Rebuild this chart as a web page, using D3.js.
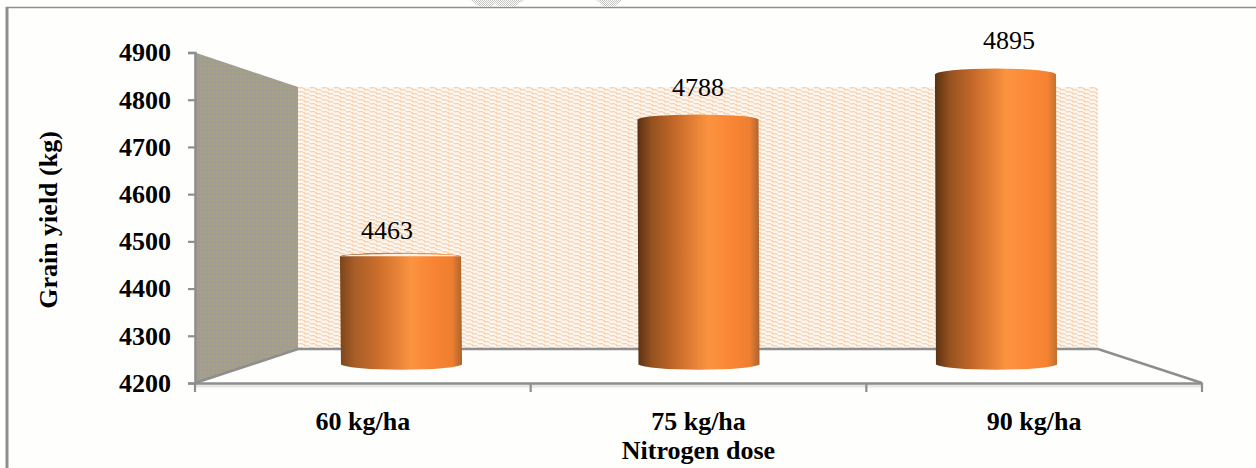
<!DOCTYPE html>
<html>
<head>
<meta charset="utf-8">
<script src="https://cdn.jsdelivr.net/npm/d3@7"></script>
<style>
  html, body { margin: 0; padding: 0; background: #fefefd; }
  svg { display: block; }
  text { font-family: "Liberation Serif", serif; fill: #000; }
</style>
</head>
<body>
<svg id="chart" width="1256" height="468"></svg>
<script>
// Grain yield under three nitrogen doses
const doses = ["60 kg/ha", "75 kg/ha", "90 kg/ha"];
const grainYield = [4463, 4788, 4895];
const yTicks = [4200, 4300, 4400, 4500, 4600, 4700, 4800, 4900];
const yTitle = "Grain yield (kg)";
const xTitle = "Nitrogen dose";

const svg = d3.select("#chart");
const W = 1256, H = 468;
const grey = "#8e8e8e";
const domain = [4200, 4900];

// The 3D box: front plane carries the axes, back plane carries the wall,
// the cylinders stand halfway between them.
const front = { x0: 195, x1: 1202, y: d3.scaleLinear().domain(domain).range([383, 52.5]) };
const back  = { x0: 298, x1: 1098, y: d3.scaleLinear().domain(domain).range([349, 87]) };
const midY  = d3.scaleLinear().domain(domain).range([365.5, 71]);
const labelY = d3.scaleLinear().domain(domain).range([355, 47]);

const xFront = d3.scaleBand().domain(doses).range([front.x0, front.x1]);
const xMid   = d3.scaleBand().domain(doses).range([251.75, 1144.25]);
const xLabel = d3.scaleBand().domain(doses).range([231.5, 1164.5]);

const defs = svg.append("defs");

// Peach brick-weave fill of the back wall
const weave = defs.append("pattern").attr("id", "weave")
  .attr("patternUnits", "userSpaceOnUse").attr("width", 12).attr("height", 8)
  .attr("x", back.x0).attr("y", 87);
weave.append("rect").attr("width", 12).attr("height", 8).attr("fill", "#fef8f2");
[[0, 0, 5], [6, 2, 5], [0, 4, 5], [6, 6, 5], [5, 1, 2], [11, 3, 2], [5, 5, 2], [11, 7, 1]].forEach(([x, y, w]) => {
  weave.append("rect").attr("x", x).attr("y", y).attr("width", w).attr("height", 1.5).attr("fill", "#fbd2b0");
});

// Fine speckle of the side wall
const speckle = defs.append("pattern").attr("id", "speckle")
  .attr("patternUnits", "userSpaceOnUse").attr("width", 4).attr("height", 4);
speckle.append("rect").attr("width", 4).attr("height", 4).attr("fill", "#a39e8d");
speckle.append("rect").attr("x", 0).attr("y", 0).attr("width", 2).attr("height", 1).attr("fill", "#aaa184");
speckle.append("rect").attr("x", 2).attr("y", 2).attr("width", 2).attr("height", 1).attr("fill", "#999a94");

// Checker fill of the small shapes cut by the top edge
const checker = defs.append("pattern").attr("id", "checker")
  .attr("patternUnits", "userSpaceOnUse").attr("width", 2).attr("height", 2);
checker.append("rect").attr("width", 2).attr("height", 2).attr("fill", "#ffffff");
checker.append("rect").attr("width", 1).attr("height", 1).attr("fill", "#c4c4c4");
checker.append("rect").attr("x", 1).attr("y", 1).attr("width", 1).attr("height", 1).attr("fill", "#c4c4c4");

// Horizontal shading that makes each bar read as a cylinder
const shades = [
  ["#7c441a", "#a85e28", "#cc6e2c", "#fb9340", "#f98534", "#ee7e30", "#a9642e"],
  ["#5a3012", "#95521f", "#c76a2a", "#fb9340", "#fa8735", "#ee7e30", "#a9642e"],
  ["#5a3012", "#95521f", "#c76a2a", "#fb9340", "#fc8a37", "#f58332", "#c0702e"]
];
const offsets = [0, 0.12, 0.32, 0.58, 0.75, 0.92, 1];
shades.forEach((colors, i) => {
  const g = defs.append("linearGradient").attr("id", "cyl" + i)
    .attr("x1", 0).attr("x2", 1).attr("y1", 0).attr("y2", 0);
  colors.forEach((c, j) => g.append("stop").attr("offset", offsets[j]).attr("stop-color", c));
});

// Outer frame
svg.append("path")
  .attr("d", `M7,${H}V7.5H${W}`)
  .attr("fill", "none").attr("stroke", grey).attr("stroke-width", 1.5);
svg.append("rect").attr("x", 5.5).attr("y", 7).attr("width", 3).attr("height", H - 7).attr("fill", "#8e8e8e");

// Shapes cut off by the top edge
svg.append("path").attr("d", "M470,0L480,7H491L495,3L499,7H514L524,0Z").attr("fill", "url(#checker)");
svg.append("path").attr("d", "M596,0L605,7H614L622,0Z").attr("fill", "url(#checker)");

// Walls
svg.append("rect")
  .attr("x", back.x0).attr("y", back.y(4900))
  .attr("width", back.x1 - back.x0).attr("height", back.y(4200) - back.y(4900))
  .attr("fill", "url(#weave)");
svg.append("path")
  .attr("d", d3.line()([
    [front.x0, front.y(4900)], [back.x0, back.y(4900)],
    [back.x0, back.y(4200)], [front.x0, front.y(4200)]
  ]) + "Z")
  .attr("fill", "url(#speckle)");

// Floor edges
svg.append("path")
  .attr("d", d3.line()([
    [front.x0, front.y(4200)], [back.x0, back.y(4200)],
    [back.x1, back.y(4200)], [front.x1, front.y(4200)]
  ]))
  .attr("fill", "none").attr("stroke", grey).attr("stroke-width", 2.6);
svg.append("rect").attr("x", front.x0).attr("y", front.y(4200) + 1.5)
  .attr("width", front.x1 - front.x0).attr("height", 3).attr("fill", "#e6e6e4");

// Y axis
const yAxis = svg.append("g")
  .attr("transform", `translate(${front.x0},0)`)
  .call(d3.axisLeft(front.y).tickValues(yTicks).tickSize(7).tickPadding(17).tickFormat(d3.format("d")));
yAxis.select(".domain").attr("stroke", grey).attr("stroke-width", 2.6);
yAxis.selectAll(".tick line").attr("stroke", grey).attr("stroke-width", 2.2);
yAxis.selectAll("text")
  .attr("font-family", "Liberation Serif").attr("font-size", 26).attr("font-weight", "bold").attr("fill", "#000");

// X axis: labels centred under each band, ticks on the band edges
const xAxis = svg.append("g")
  .attr("transform", `translate(0,${front.y(4200)})`)
  .call(d3.axisBottom(xFront).tickSize(0).tickPadding(29));
xAxis.select(".domain").attr("stroke", grey).attr("stroke-width", 2.6);
xAxis.selectAll("text")
  .attr("font-family", "Liberation Serif").attr("font-size", 26).attr("font-weight", "bold").attr("fill", "#000");
const edges = doses.map(d => xFront(d)).concat(front.x1);
svg.append("g").selectAll("line").data(edges).join("line")
  .attr("x1", d => d).attr("x2", d => d)
  .attr("y1", front.y(4200)).attr("y2", front.y(4200) + 9)
  .attr("stroke", grey).attr("stroke-width", 2.2);

// Cylinders
const barW = xMid.bandwidth() * 0.407;
const baseY = midY(4200);
const bars = svg.append("g").selectAll("g").data(grainYield).join("g");
bars.each(function (v, i) {
  const g = d3.select(this);
  const cx = xMid(doses[i]) + xMid.bandwidth() / 2;
  const l = cx - barW / 2, r = cx + barW / 2;
  const top = midY(v) + 1.5, bottom = baseY - 1;
  const ryTop = [3.5, 5, 6][i];
  g.append("path")
    .attr("d", `M${l},${top}A${barW / 2},${ryTop} 0 0 1 ${r},${top}L${r + 1},${bottom}A${barW / 2 + 0.5},6 0 0 1 ${l + 1},${bottom}Z`)
    .attr("fill", `url(#cyl${i})`);
  // The shortest cylinder shows a pale lens between its rim and its body
  if (i === 0) {
    g.append("path")
      .attr("d", `M${l - 0.5},${top}C${l + 8},${top - 3.2} ${r - 8},${top - 3.2} ${r + 0.5},${top}Z`)
      .attr("fill", "#fdf3ea");
  }
});

// Value labels
svg.append("g").selectAll("text").data(grainYield).join("text")
  .attr("x", (d, i) => xLabel(doses[i]) + xLabel.bandwidth() / 2)
  .attr("y", d => labelY(d))
  .attr("text-anchor", "middle")
  .attr("font-size", 26)
  .attr("fill", "#111")
  .text(d => d);

// Axis titles
svg.append("text")
  .attr("x", xFront(doses[1]) + xFront.bandwidth() / 2)
  .attr("y", 458.5)
  .attr("text-anchor", "middle")
  .attr("font-size", 26).attr("font-weight", "bold")
  .text(xTitle);
svg.append("text")
  .attr("transform", "translate(57,220) rotate(-90)")
  .attr("text-anchor", "middle")
  .attr("font-size", 26).attr("font-weight", "bold")
  .text(yTitle);
</script>
</body>
</html>
